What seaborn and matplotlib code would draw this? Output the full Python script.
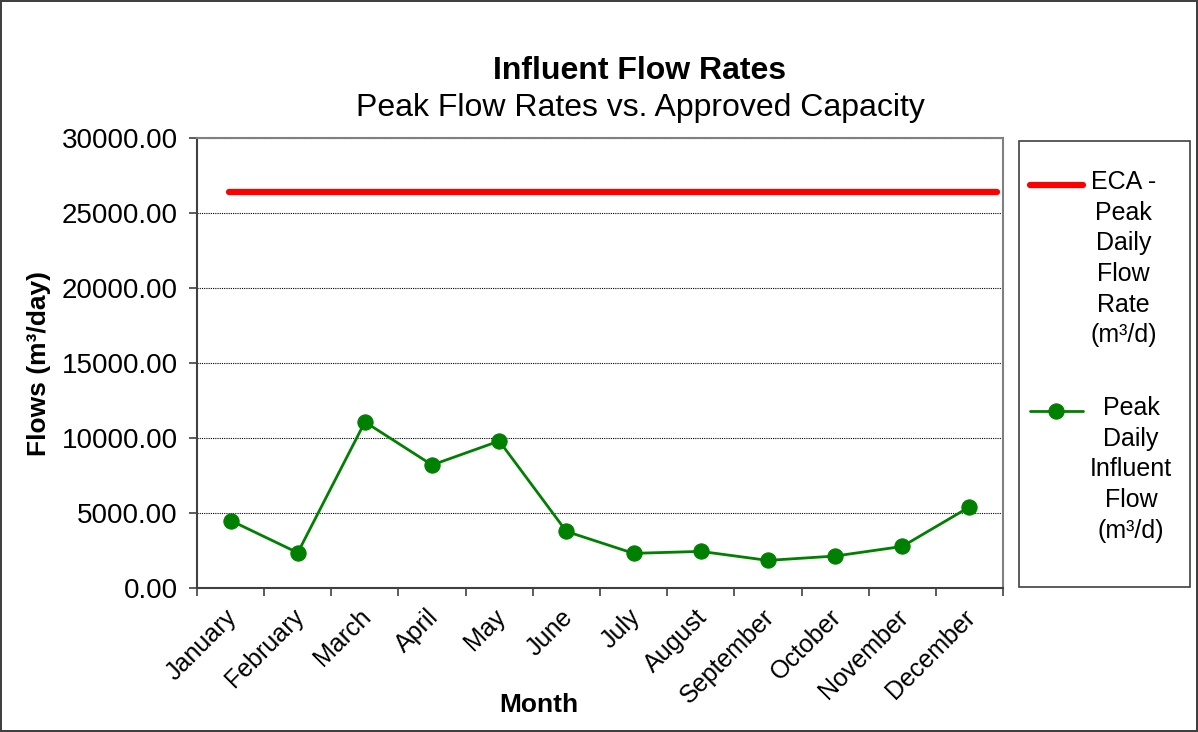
import numpy as np
import pandas as pd
import matplotlib
matplotlib.use("Agg")
import matplotlib.pyplot as plt
import seaborn as sns
from matplotlib.patches import Rectangle
from matplotlib.transforms import ScaledTranslation
from matplotlib.ticker import FixedLocator, FuncFormatter

# 월별 데이터
months = ["January", "February", "March", "April", "May", "June",
          "July", "August", "September", "October", "November", "December"]
peak_influent = [4500, 2350, 11070, 8200, 9800, 3770,
                 2310, 2440, 1840, 2130, 2770, 5400]
eca_capacity = [26400] * 12

eca_label = "ECA -\nPeak\nDaily\nFlow\nRate\n(m³/d)"
flow_label = "Peak\nDaily\nInfluent\nFlow\n(m³/d)"

sns.set_style("white")
plt.rcParams['font.family'] = ['Liberation Sans', 'DejaVu Sans']
plt.rcParams['text.color'] = 'black'
plt.rcParams['axes.labelcolor'] = 'black'
plt.rcParams['xtick.labelcolor'] = 'black'
plt.rcParams['ytick.labelcolor'] = 'black'

df = pd.DataFrame({
    'pos': np.arange(len(months)),
    'month': months,
    'eca': eca_capacity,
    'peak': peak_influent,
})

W, H = 1198, 732
fig = plt.figure(figsize=(W / 100, H / 100), dpi=100)
fig.patch.set_edgecolor('#404040')
fig.patch.set_linewidth(1.5)
ax = fig.add_axes([197 / W, 1 - 588 / H, 806 / W, 450 / H])

# ECA 계열은 엑셀 보조축처럼 살짝 다른 범위
ax2 = ax.twiny()
sns.lineplot(data=df, x='pos', y='eca', ax=ax2, color='#ff0000', lw=4.5,
             solid_capstyle='round', legend=False)
ax2.set_xlim(-0.46, 11.08)
ax2.set_ylim(0, 30000)
ax2.axis('off')

sns.lineplot(data=df, x='pos', y='peak', ax=ax, color='#008000', lw=2,
             marker='o', markersize=11, markeredgecolor='#008000', legend=False)

ax.set_xlim(-0.5, len(months) - 0.5)
ax.set_ylim(0, 30000)

# y축: 5000 간격, 소수점 두 자리
ax.set_yticks(np.arange(0, 30001, 5000))
ax.yaxis.set_major_formatter(FuncFormatter(lambda v, p: f"{v:.2f}"))
ax.yaxis.grid(True, color='black', linestyle=(0, (1, 1)), lw=0.8)
ax.set_axisbelow(True)

# x축: 라벨은 중앙, 눈금은 경계
ax.set_xticks(df['pos'])
ax.set_xticklabels(months, rotation=45, ha='right', rotation_mode='anchor', fontsize=18)
ax.xaxis.set_minor_locator(FixedLocator(np.arange(-0.5, len(months), 1)))
ax.tick_params(axis='x', which='major', length=0, pad=12, bottom=False, labelcolor='black')
ax.tick_params(axis='x', which='minor', length=6, width=1.2, color='#404040',
               direction='out', bottom=True)
ax.tick_params(axis='y', which='major', length=6, width=1.2, color='#404040',
               direction='out', labelsize=20, pad=8, left=True, labelcolor='black')

# 라벨을 왼쪽으로 조금 이동 (tick_params 이후에 적용)
shift_left = ScaledTranslation(-0.06, 0, fig.dpi_scale_trans)
for lab in ax.get_xticklabels():
    lab.set_transform(lab.get_transform() + shift_left)

for side in ['left', 'bottom']:
    ax.spines[side].set_color('#404040')
    ax.spines[side].set_linewidth(1.5)
for side in ['top', 'right']:
    ax.spines[side].set_color('#808080')
    ax.spines[side].set_linewidth(1.5)

ax.set_xlabel('Month', fontsize=19, fontweight='bold', color='black')
ax.xaxis.set_label_coords((539 - 197) / 806, (588 - 693) / 450)
ax.set_ylabel('Flows (m³/day)', fontsize=19, fontweight='bold', color='black')
ax.yaxis.set_label_coords((51 - 197) / 806, 0.5)

fig.text(640 / W, 1 - 71 / H, 'Influent Flow Rates', ha='center', va='center',
         fontsize=23, fontweight='bold', color='black')
fig.text(640 / W, 1 - 108 / H, 'Peak Flow Rates vs. Approved Capacity', ha='center',
         va='center', fontsize=23, color='black')

# 범례 상자
fig.patches.append(Rectangle((1019 / W, 1 - 587 / H), 171 / W, 446 / H,
                             transform=fig.transFigure, fill=False,
                             edgecolor='#404040', lw=1.2))

handles = [ax2.get_lines()[0], ax.get_lines()[0]]
leg = fig.legend(handles, [eca_label, flow_label], loc='upper left',
                 bbox_to_anchor=(1030 / W, 1 - 170 / H), frameon=False,
                 fontsize=18, handlelength=2.1, labelspacing=1.95, borderpad=0,
                 handletextpad=0.3, borderaxespad=0, labelcolor='black')
for t in leg.get_texts():
    t.set_ha('center')
    t.set_multialignment('center')
    t.set_linespacing(1.35)

# 핸들을 첫 줄 높이로 올림
fig.canvas.draw()
for h, t in zip(leg.get_lines(), leg.get_texts()):
    tb = t.get_window_extent()
    nlines = t.get_text().count('\n') + 1
    target = tb.y1 - tb.height / nlines / 2
    hy = h.get_transform().transform((0, h.get_ydata()[0]))[1]
    shift = (target - hy) * 72 / fig.dpi
    h.set_ydata(np.asarray(h.get_ydata()) + shift)

fig.savefig('out.png', dpi=100, edgecolor=fig.get_edgecolor())
